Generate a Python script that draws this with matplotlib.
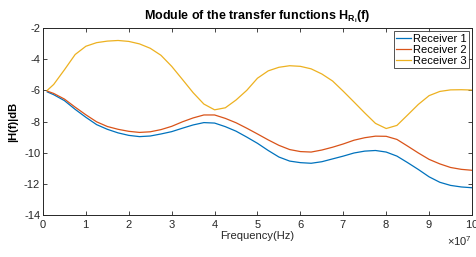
import matplotlib
matplotlib.use("Agg")
import matplotlib.pyplot as plt
import numpy as np
from matplotlib.ticker import ScalarFormatter

# frequency grid in units of 1e7 Hz
freq_e7 = [0.1, 0.25, 0.5, 0.75, 1.0, 1.25, 1.5, 1.75, 2.0, 2.25, 2.5, 2.75, 3.0, 3.25,
           3.5, 3.75, 4.0, 4.25, 4.5, 4.75, 5.0, 5.25, 5.5, 5.75, 6.0, 6.25, 6.5, 6.75,
           7.0, 7.25, 7.5, 7.75, 8.0, 8.25, 8.5, 8.75, 9.0, 9.25, 9.5, 9.75, 10.0]

receiver1 = [-6.1, -6.28, -6.66, -7.22, -7.73, -8.2, -8.5, -8.73, -8.89, -8.97, -8.93, -8.8,
             -8.65, -8.43, -8.22, -8.07, -8.1, -8.33, -8.62, -9.0, -9.4, -9.86, -10.28,
             -10.54, -10.64, -10.68, -10.58, -10.4, -10.22, -10.02, -9.9, -9.86, -9.96,
             -10.22, -10.64, -11.08, -11.55, -11.9, -12.1, -12.2, -12.25]

receiver2 = [-6.05, -6.2, -6.56, -7.08, -7.57, -8.02, -8.32, -8.5, -8.63, -8.7, -8.66, -8.52,
             -8.31, -8.02, -7.77, -7.58, -7.58, -7.8, -8.08, -8.43, -8.8, -9.18, -9.53,
             -9.8, -9.93, -9.96, -9.83, -9.65, -9.44, -9.2, -9.04, -8.94, -8.95, -9.15,
             -9.58, -10.02, -10.43, -10.72, -10.95, -11.07, -11.13]

receiver3 = [-6.0, -5.62, -4.68, -3.7, -3.17, -2.94, -2.84, -2.8, -2.86, -3.02, -3.3, -3.75,
             -4.46, -5.3, -6.15, -6.88, -7.25, -7.12, -6.62, -6.0, -5.22, -4.75, -4.52,
             -4.42, -4.46, -4.62, -4.95, -5.4, -6.06, -6.75, -7.45, -8.12, -8.45, -8.25,
             -7.58, -6.9, -6.34, -6.07, -5.97, -5.96, -5.98]

labels = ["Receiver 1", "Receiver 2", "Receiver 3"]
colors = ["#0072BD", "#D95319", "#EDB120"]

plt.rcParams["font.family"] = "Liberation Sans"
plt.rcParams["font.size"] = 8
plt.rcParams["axes.unicode_minus"] = False
plt.rcParams["mathtext.fontset"] = "custom"
plt.rcParams["mathtext.rm"] = "Liberation Sans"
plt.rcParams["mathtext.bf"] = "Liberation Sans:bold"

fig = plt.figure(figsize=(4.76, 2.57), dpi=100)
ax = fig.add_axes([0.0903, 0.1634, 0.9013, 0.7276])

freq = np.array(freq_e7) * 1e7
for vals, lab, col in zip([receiver1, receiver2, receiver3], labels, colors):
    ax.plot(freq, vals, color=col, linewidth=0.9, label=lab)

ax.set_xlim(0, 1e8)
ax.set_ylim(-14, -2)
ax.set_xticks(np.arange(0, 1.01e8, 1e7))
ax.set_yticks(np.arange(-14, -1, 2))

fmt = ScalarFormatter(useMathText=True)
fmt.set_powerlimits((7, 7))
ax.xaxis.set_major_formatter(fmt)

for sp in ax.spines.values():
    sp.set_color("#262626")
    sp.set_linewidth(0.7)
ax.tick_params(direction="in", top=True, right=True, length=3, width=0.6,
               colors="#262626", labelsize=8, pad=2)
ax.xaxis.get_offset_text().set_fontsize(8)

ax.set_title(r"Module of the transfer functions H$_{\mathbf{R}_{\mathbf{i}}}$(f)",
             fontweight="bold", fontsize=9, pad=6)
ax.set_xlabel("Frequency(Hz)", fontsize=8, labelpad=1, color="#262626")
ax.set_ylabel("|H(f)|dB", fontweight="bold", fontsize=8, labelpad=4)

leg = ax.legend(loc="upper right", fontsize=8, frameon=True, fancybox=False,
                handlelength=1.3, handletextpad=0.2, borderpad=0.2, labelspacing=0.1,
                borderaxespad=0.3)
leg.get_frame().set_edgecolor("#262626")
leg.get_frame().set_linewidth(0.7)

fig.savefig("out.png", dpi=100)
